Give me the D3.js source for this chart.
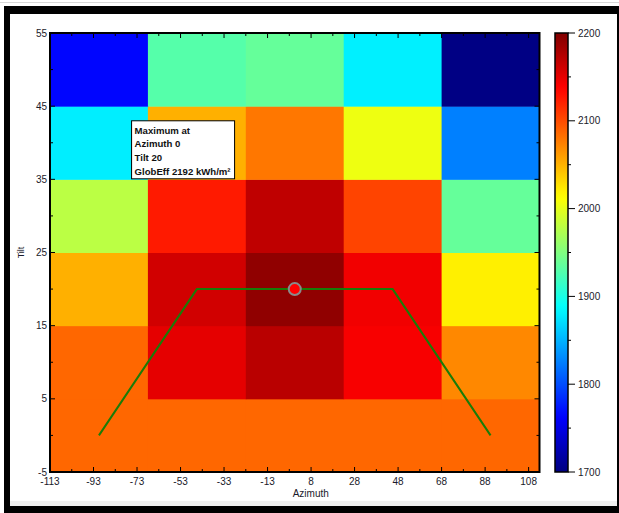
<!DOCTYPE html>
<html><head><meta charset="utf-8">
<script src="https://cdn.jsdelivr.net/npm/d3@7"></script>
<style>html,body{margin:0;padding:0;background:#fff;}svg{display:block;}</style>
</head><body>
<script>
const azimuths = [-90, -45, 0, 45, 90];
const tilts = [0, 10, 20, 30, 40, 50];
// GlobEff values [tilt row][azimuth col], kWh/m²
const globEff = [
  [2087, 2087, 2087, 2087, 2087],
  [2087, 2150, 2172, 2141, 2071],
  [2051, 2160, 2192, 2144, 2020],
  [1979, 2125, 2169, 2104, 1937],
  [1879, 2051, 2079, 2004, 1825],
  [1765, 1929, 1937, 1880, 1702]
];
const xTickValues = [-112.5, -92.5, -72.5, -52.5, -32.5, -12.5, 7.5, 27.5, 47.5, 67.5, 87.5, 107.5];
const xTickLabels = ["-113", "-93", "-73", "-53", "-33", "-13", "8", "28", "48", "68", "88", "108"];
const yTickValues = [-5, 5, 15, 25, 35, 45, 55];
const cbTickValues = [1700, 1800, 1900, 2000, 2100, 2200];
const limitAz = [-90, -45, 45, 90];
const limitTilt = [0, 20, 20, 0];
const maxPoint = {az: 0, tilt: 20, value: 2192};
const annotationLines = ["Maximum at", "Azimuth 0", "Tilt 20", "GlobEff 2192 kWh/m²"];

const W = 619, H = 513;
const svg = d3.select("body").append("svg").attr("width", W).attr("height", H);
const font = "'Liberation Sans', Arial, sans-serif";

// frame
svg.append("rect").attr("x",0).attr("y",0).attr("width",W).attr("height",H).attr("fill","#fff");
svg.append("line").attr("x1",0).attr("x2",W).attr("y1",2.5).attr("y2",2.5).attr("stroke","#d8d8d8");
svg.append("rect").attr("x",4).attr("y",6).attr("width",W-4).attr("height",8).attr("fill","#000");
svg.append("rect").attr("x",4).attr("y",6).attr("width",6).attr("height",H-6).attr("fill","#000");
svg.append("rect").attr("x",4).attr("y",506).attr("width",W-4).attr("height",7).attr("fill","#000");
svg.append("rect").attr("x",617).attr("y",6).attr("width",2).attr("height",H-6).attr("fill","#000");
svg.append("rect").attr("x",10).attr("y",501).attr("width",607).attr("height",5).attr("fill","#f0f0f0");

function jet(t){
  t = Math.max(0, Math.min(1, t));
  const c = v => Math.round(255*Math.max(0, Math.min(1, v)));
  return `rgb(${c(1.5-Math.abs(4*t-3))},${c(1.5-Math.abs(4*t-2))},${c(1.5-Math.abs(4*t-1))})`;
}
const vmin = 1700, vmax = 2200;
const color = v => jet((v - vmin)/(vmax - vmin));

const L = 50, R = 539.5, T = 33, B = 472;
const x = d3.scaleLinear().domain([-112.5, 112.5]).range([L, R]);
const y = d3.scaleLinear().domain([-5, 55]).range([B, T]);

const cells = [];
tilts.forEach((t, i) => azimuths.forEach((a, j) => cells.push({a, t, v: globEff[i][j]})));
svg.append("g").selectAll("rect").data(cells).join("rect")
  .attr("x", d => x(d.a - 22.5)).attr("y", d => y(d.t + 5))
  .attr("width", d => x(d.a + 22.5) - x(d.a - 22.5) + 0.5)
  .attr("height", d => y(d.t - 5) - y(d.t + 5) + 0.5)
  .attr("fill", d => color(d.v));

// limit line
svg.append("path")
  .datum(limitAz.map((a, i) => [a, limitTilt[i]]))
  .attr("d", d3.line().x(d => x(d[0])).y(d => y(d[1])))
  .attr("fill", "none").attr("stroke", "#1a7c08").attr("stroke-width", 2);

// maximum marker
svg.append("circle").attr("cx", x(maxPoint.az)).attr("cy", y(maxPoint.tilt)).attr("r", 6)
  .attr("fill", "#ff0000").attr("stroke", "#8a8a8a").attr("stroke-width", 2);

// axes frame
svg.append("rect").attr("x", L).attr("y", T).attr("width", R-L).attr("height", B-T)
  .attr("fill", "none").attr("stroke", "#000").attr("stroke-width", 2);

const tickG = svg.append("g").attr("stroke", "#000").attr("stroke-width", 1);
const xMinor = xTickValues.map(v => v + 10).filter(v => v < 112.5);
xTickValues.forEach(v => {
  if (v <= -112.5) return;
  tickG.append("line").attr("x1", x(v)).attr("x2", x(v)).attr("y1", B).attr("y2", B-5);
  tickG.append("line").attr("x1", x(v)).attr("x2", x(v)).attr("y1", T).attr("y2", T+5);
});
xMinor.forEach(v => {
  tickG.append("line").attr("x1", x(v)).attr("x2", x(v)).attr("y1", B).attr("y2", B-3);
  tickG.append("line").attr("x1", x(v)).attr("x2", x(v)).attr("y1", T).attr("y2", T+3);
});
const yMinor = yTickValues.map(v => v + 5).filter(v => v < 55);
yTickValues.forEach(v => {
  tickG.append("line").attr("x1", L).attr("x2", L+5).attr("y1", y(v)).attr("y2", y(v));
  tickG.append("line").attr("x1", R).attr("x2", R-5).attr("y1", y(v)).attr("y2", y(v));
});
yMinor.forEach(v => {
  tickG.append("line").attr("x1", L).attr("x2", L+3).attr("y1", y(v)).attr("y2", y(v));
  tickG.append("line").attr("x1", R).attr("x2", R-3).attr("y1", y(v)).attr("y2", y(v));
});

const lab = svg.append("g").attr("font-family", font).attr("font-size", 10).attr("fill", "#1a1a2a");
xTickValues.forEach((v, i) => {
  lab.append("text").attr("x", x(v)).attr("y", B + 13).attr("text-anchor", "middle").text(xTickLabels[i]);
});
yTickValues.forEach(v => {
  lab.append("text").attr("x", L - 3).attr("y", y(v) + 3.5).attr("text-anchor", "end").text(v);
});
lab.append("text").attr("x", x(0) + 16).attr("y", 497).attr("text-anchor", "middle").text("Azimuth");
lab.append("text").attr("transform", `translate(24,${y(25)}) rotate(-90)`).attr("text-anchor", "middle")
  .attr("font-size", 9).text("Tilt");

// annotation
const ax = x(-75), ay = y(43);
svg.append("rect").attr("x", ax).attr("y", ay).attr("width", 103).attr("height", 58)
  .attr("fill", "#fff").attr("stroke", "#000").attr("stroke-width", 1);
const at = svg.append("text").attr("font-family", font).attr("font-size", 9.6).attr("font-weight", "bold").attr("fill", "#111");
annotationLines.forEach((s, i) => {
  at.append("tspan").attr("x", ax + 3).attr("y", ay + 13 + i * 13.6).text(s);
});

// colorbar
const cbX = 555, cbW = 13;
const cy = d3.scaleLinear().domain([vmin, vmax]).range([B, T]);
const defs = svg.append("defs");
const grad = defs.append("linearGradient").attr("id", "jet").attr("x1", 0).attr("y1", 1).attr("x2", 0).attr("y2", 0);
d3.range(0, 1.0001, 0.02).forEach(t => grad.append("stop").attr("offset", t).attr("stop-color", jet(t)));
svg.append("rect").attr("x", cbX).attr("y", T).attr("width", cbW).attr("height", B-T)
  .attr("fill", "url(#jet)").attr("stroke", "#000").attr("stroke-width", 1.5);
cbTickValues.forEach(v => {
  svg.append("line").attr("x1", cbX+cbW).attr("x2", cbX+cbW+7).attr("y1", cy(v)).attr("y2", cy(v)).attr("stroke", "#000");
  lab.append("text").attr("x", cbX+cbW+10).attr("y", cy(v) + 3.5).text(v);
});
cbTickValues.slice(0, -1).forEach(v => {
  svg.append("line").attr("x1", cbX+cbW).attr("x2", cbX+cbW+3).attr("y1", cy(v+50)).attr("y2", cy(v+50)).attr("stroke", "#000");
});
</script>
</body></html>
